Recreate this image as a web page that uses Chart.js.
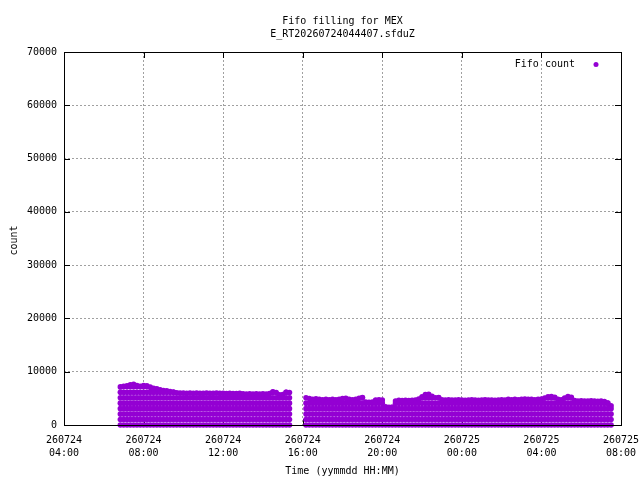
<!DOCTYPE html>
<html>
<head>
<meta charset="utf-8">
<title>Fifo filling for MEX</title>
<script src="https://cdn.jsdelivr.net/npm/chart.js@4.4.1/dist/chart.umd.min.js"></script>
<style>
  html, body { margin: 0; padding: 0; background: #fff; }
  #wrap { width: 640px; height: 480px; }
</style>
</head>
<body>
<div id="wrap"><canvas id="fifoChart" width="640" height="480"></canvas></div>
<script>
// Texts
const titleLines = ['Fifo filling for MEX', 'E_RT20260724044407.sfduZ'];
const xTitle = 'Time (yymmdd HH:MM)';
const yTitle = 'count';
const seriesName = 'Fifo count';

// Axis ticks (x values are minutes after 260724 00:00)
const xTickMinutes = [240, 480, 720, 960, 1200, 1440, 1680, 1920];
const xTickDates = ['260724', '260724', '260724', '260724', '260724', '260725', '260725', '260725'];
const xTickTimes = ['04:00', '08:00', '12:00', '16:00', '20:00', '00:00', '04:00', '08:00'];
const yTickValues = [0, 10000, 20000, 30000, 40000, 50000, 60000, 70000];
const yTickLabels = ['0', '10000', '20000', '30000', '40000', '50000', '60000', '70000'];

// Fill levels the fifo passes through (the stripes in the cloud of points)
const fillLevels = [0, 1024, 2048, 3072, 4096, 5120, 6144, 7168];

// First run: 06:50 - 15:20
const run1Minutes = [
    410, 420, 430, 440, 450, 460, 470,
    480, 490, 500, 510, 520, 530,
    540, 550, 560, 570, 580, 590,
    600, 610, 620, 630, 640, 650,
    660, 670, 680, 690, 700, 710,
    720, 730, 740, 750, 760, 770,
    780, 790, 800, 810, 820, 830,
    840, 850, 860, 870, 880, 890,
    900, 910, 920
];
const run1Peaks = [
    7150, 7250, 7350, 7550, 7650, 7400, 7250,
    7400, 7350, 7100, 6900, 6800, 6600,
    6450, 6400, 6300, 6200, 6050, 6000,
    6000, 5950, 6000, 5950, 6000, 5950,
    5950, 6000, 5950, 5950, 6000, 5950,
    5950, 5900, 5950, 5900, 5900, 5950,
    5850, 5800, 5850, 5800, 5850, 5800,
    5850, 5800, 5900, 6250, 6100, 5650,
    5700, 6150, 6100
];

// Second run: 16:10 - 07:30 next day
const run2Minutes = [
    970, 980, 990, 1000, 1010,
    1020, 1030, 1040, 1050, 1060, 1070,
    1080, 1090, 1100, 1110, 1120, 1130,
    1140, 1150, 1160, 1170, 1180, 1190,
    1200, 1210, 1220, 1230, 1240, 1250,
    1260, 1270, 1280, 1290, 1300, 1310,
    1320, 1330, 1340, 1350, 1360, 1370,
    1380, 1390, 1400, 1410, 1420, 1430,
    1440, 1450, 1460, 1470, 1480, 1490,
    1500, 1510, 1520, 1530, 1540, 1550,
    1560, 1570, 1580, 1590, 1600, 1610,
    1620, 1630, 1640, 1650, 1660, 1670,
    1680, 1690, 1700, 1710, 1720, 1730,
    1740, 1750, 1760, 1770, 1780, 1790,
    1800, 1810, 1820, 1830, 1840, 1850,
    1860, 1870, 1880, 1890
];
const run2Peaks = [
    5100, 4950, 4800, 4900, 4800,
    4750, 4800, 4750, 4800, 4750, 4800,
    4950, 5000, 4800, 4750, 4800, 5000,
    5150, 4300, 4250, 4300, 4700, 4750,
    4700, 3400, 3300, 3350, 4500, 4650,
    4600, 4650, 4600, 4650, 4700, 4850,
    5300, 5700, 5750, 5400, 5100, 5150,
    4750, 4700, 4750, 4700, 4700, 4750,
    4700, 4650, 4700, 4750, 4700, 4650,
    4700, 4750, 4700, 4700, 4650, 4700,
    4750, 4700, 4800, 4750, 4800, 4750,
    4800, 4850, 4800, 4800, 4750, 4800,
    4850, 5050, 5300, 5350, 5200, 4800,
    4750, 5050, 5350, 5200, 4600, 4500,
    4550, 4500, 4500, 4550, 4500, 4450,
    4500, 4400, 4100, 3600
];

const pointColor = '#9400d3';
const fontFamily = '"DejaVu Sans Mono", "Liberation Mono", monospace';
const textFont = '10px ' + fontFamily;

// Build the scatter points: every fill level below the peak, plus the peak
function buildPoints() {
    const points = [];
    [[run1Minutes, run1Peaks], [run2Minutes, run2Peaks]].forEach(([times, peaks]) => {
        times.forEach((t, i) => {
            fillLevels.forEach(level => {
                if (level < peaks[i]) points.push({ x: t, y: level });
            });
            points.push({ x: t, y: peaks[i] });
        });
    });
    return points;
}

function crisp(v) {
    return Math.round(v) + 0.5;
}

// Border, inward tics, titles and key the way gnuplot draws them
const gnuplotFrame = {
    id: 'gnuplotFrame',
    beforeDatasetsDraw(chart) {
        const { ctx, chartArea: a, scales } = chart;
        const len = 6;
        ctx.save();
        ctx.strokeStyle = '#000';
        ctx.lineWidth = 1;
        ctx.beginPath();
        xTickMinutes.forEach(v => {
            const px = crisp(scales.x.getPixelForValue(v));
            ctx.moveTo(px, a.bottom); ctx.lineTo(px, a.bottom - len);
            ctx.moveTo(px, a.top); ctx.lineTo(px, a.top + len);
        });
        yTickValues.forEach(v => {
            const py = crisp(scales.y.getPixelForValue(v));
            ctx.moveTo(a.left, py); ctx.lineTo(a.left + len, py);
            ctx.moveTo(a.right, py); ctx.lineTo(a.right - len, py);
        });
        ctx.stroke();
        ctx.restore();
    },
    afterDraw(chart) {
        const { ctx, chartArea: a } = chart;
        const cx = (a.left + a.right) / 2;
        ctx.save();
        ctx.strokeStyle = '#000';
        ctx.lineWidth = 1;
        ctx.strokeRect(crisp(a.left), crisp(a.top), Math.round(a.right - a.left), Math.round(a.bottom - a.top));

        ctx.fillStyle = '#000';
        ctx.font = textFont;
        ctx.textBaseline = 'middle';
        ctx.textAlign = 'center';
        ctx.fillText(titleLines[0], cx, 21.5);
        ctx.fillText(titleLines[1], cx, 34);
        ctx.fillText(xTitle, cx, 471);

        ctx.save();
        ctx.translate(14, (a.top + a.bottom) / 2 + 2);
        ctx.rotate(-Math.PI / 2);
        ctx.fillText(yTitle, 0, 0);
        ctx.restore();

        // key
        ctx.textAlign = 'right';
        ctx.fillText(seriesName, a.right - 46, a.top + 12.5);
        ctx.fillStyle = pointColor;
        ctx.beginPath();
        ctx.arc(a.right - 25, a.top + 12.5, 2.5, 0, Math.PI * 2);
        ctx.fill();
        ctx.restore();
    }
};

const ctx = document.getElementById('fifoChart').getContext('2d');
new Chart(ctx, {
    type: 'scatter',
    data: {
        datasets: [{
            label: seriesName,
            data: buildPoints(),
            backgroundColor: pointColor,
            borderWidth: 0,
            pointStyle: 'circle',
            pointRadius: 2.8,
            clip: false
        }]
    },
    options: {
        responsive: false,
        devicePixelRatio: 1,
        animation: false,
        events: [],
        layout: { padding: { left: 0, right: 19, top: 52, bottom: 0 } },
        plugins: {
            legend: { display: false },
            title: { display: false },
            tooltip: { enabled: false }
        },
        scales: {
            x: {
                type: 'linear',
                min: 240,
                max: 1920,
                afterBuildTicks: scale => { scale.ticks = xTickMinutes.map(v => ({ value: v })); },
                afterFit: scale => {
                    scale.height = 55;
                    scale.paddingLeft = 0;
                    scale.paddingRight = 0;
                },
                grid: { color: '#a0a0a0', lineWidth: 1, drawTicks: false },
                border: { display: false, dash: [2, 2] },
                ticks: {
                    autoSkip: false,
                    maxRotation: 0,
                    padding: 9,
                    color: '#000',
                    font: { family: fontFamily, size: 10, lineHeight: 1.3 },
                    callback: (value, index) => [xTickDates[index], xTickTimes[index]]
                }
            },
            y: {
                type: 'linear',
                min: 0,
                max: 70000,
                afterBuildTicks: scale => { scale.ticks = yTickValues.map(v => ({ value: v })); },
                afterFit: scale => {
                    scale.width = 64;
                    scale.paddingTop = 0;
                    scale.paddingBottom = 0;
                },
                grid: { color: '#a0a0a0', lineWidth: 1, drawTicks: false },
                border: { display: false, dash: [2, 2] },
                ticks: {
                    padding: 7,
                    color: '#000',
                    font: { family: fontFamily, size: 10 },
                    callback: (value, index) => yTickLabels[index]
                }
            }
        }
    },
    plugins: [gnuplotFrame]
});
</script>
</body>
</html>
